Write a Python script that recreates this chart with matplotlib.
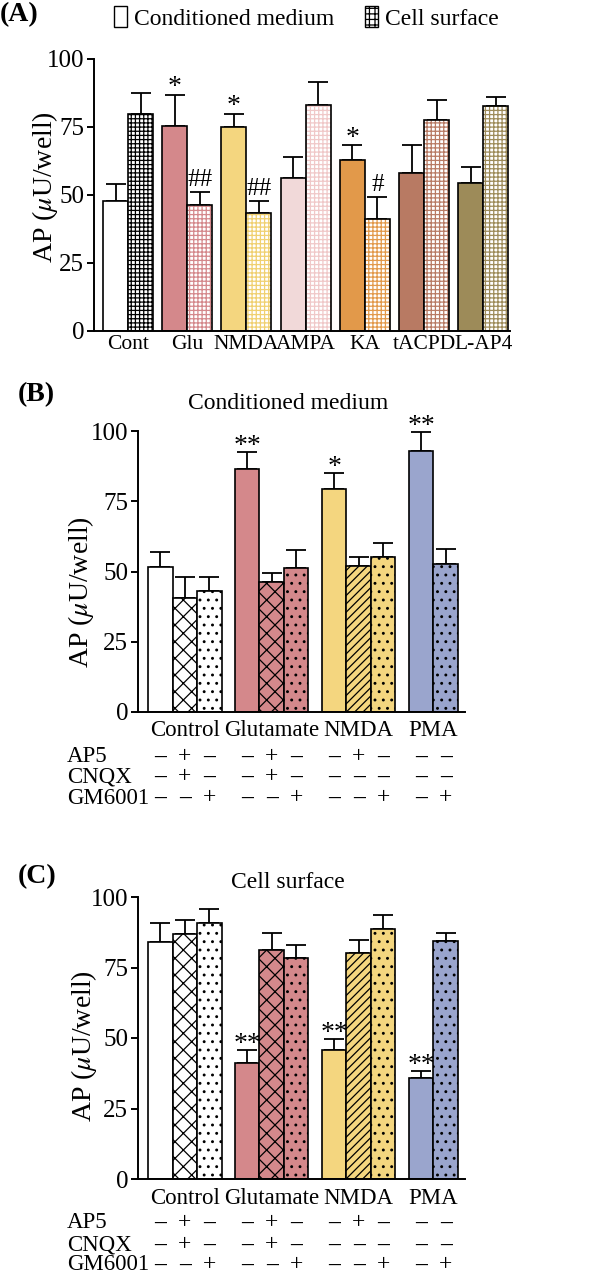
import numpy as np
import matplotlib
matplotlib.use('Agg')
import matplotlib.pyplot as plt
import matplotlib.transforms as mtransforms
from matplotlib.patches import Patch

plt.rcParams['font.family'] = ['Liberation Serif', 'DejaVu Serif']
plt.rcParams['mathtext.fontset'] = 'stix'
plt.rcParams['hatch.linewidth'] = 0.9

# ---- panel A data ----
a_groups = ['Cont', 'Glu', 'NMDA', 'AMPA', 'KA', 'tACPD', 'L-AP4']
a_medium = [47.9, 75.4, 75.1, 56.4, 62.9, 58.2, 54.4]
a_medium_err = [6.1, 11.5, 4.8, 7.4, 5.5, 10.0, 6.0]
a_surface = [79.7, 46.4, 43.5, 83.0, 41.0, 77.6, 82.8]
a_surface_err = [7.9, 4.7, 4.3, 8.6, 8.3, 7.2, 3.3]
a_medium_marks = ['', '*', '*', '', '*', '', '']
a_surface_marks = ['', '##', '##', '', '#', '', '']
a_colors = ['white', '#d4888b', '#f4d67f', '#f1d9d9', '#e2994a', '#b87a63', '#9d8b59']
a_hatch_colors = ['black', '#d4888b', '#f0d070', '#f0c8c8', '#e2994a', '#b87a63', '#9d8b59']

# ---- panels B and C data ----
bc_groups = ['Control', 'Glutamate', 'NMDA', 'PMA']
bar_group = [0, 0, 0, 1, 1, 1, 2, 2, 2, 3, 3]
bar_slot = [0, 1, 2, 0, 1, 2, 0, 1, 2, 0, 1]
bc_colors = ['white', '#d4888b', '#f4d67f', '#9aa5cd']

b_values = [51.5, 40.4, 43.2, 86.6, 46.1, 51.4, 79.4, 52.0, 55.0, 92.9, 52.6]
b_err = [5.5, 7.8, 5.0, 5.9, 3.5, 6.2, 5.8, 3.3, 5.1, 6.7, 5.3]
b_marks = ['', '', '', '**', '', '', '*', '', '', '**', '']

c_values = [84.1, 86.8, 90.8, 41.2, 81.3, 78.5, 45.9, 80.2, 88.7, 35.7, 84.4]
c_err = [6.8, 5.2, 5.1, 4.5, 5.9, 4.4, 3.6, 4.5, 4.8, 2.7, 2.8]
c_marks = ['', '', '', '**', '', '', '**', '', '', '**', '']

ap5 = ['–', '+', '–', '–', '+', '–', '–', '+', '–', '–', '–']
cnqx = ['–', '+', '–', '–', '+', '–', '–', '–', '–', '–', '–']
gm6001 = ['–', '–', '+', '–', '–', '+', '–', '–', '+', '–', '+']
rows = [('AP5', ap5), ('CNQX', cnqx), ('GM6001', gm6001)]

W, H = 610, 1275
fig = plt.figure(figsize=(W / 100, H / 100), dpi=100)


def px_axes(left, right, y0, y100):
    return fig.add_axes([left / W, 1 - y0 / H, (right - left) / W, (y0 - y100) / H])


def style_axes(ax):
    for s in ['top', 'right']:
        ax.spines[s].set_visible(False)
    for s in ['left', 'bottom']:
        ax.spines[s].set_linewidth(1.4)
    ax.set_ylim(0, 100)
    ax.set_yticks([0, 25, 50, 75, 100])
    ax.tick_params(axis='y', direction='out', length=5, width=1.4, labelsize=18, pad=2)
    ax.tick_params(axis='x', length=0, labelsize=16, pad=3)


def add_errs(ax, x, y, e):
    ax.errorbar(x, y, yerr=[np.zeros(len(y)), e], fmt='none', ecolor='black',
                elinewidth=1.3, capsize=7, capthick=1.3, zorder=1)


# ================= panel A =================
axA = px_axes(94, 510, 331, 59)
style_axes(axA)
bw = 1.0
gstep = 2.37
a_left = 0.36 + gstep * np.arange(len(a_groups))
xm = a_left + bw / 2
xs = a_left + 1.5 * bw
add_errs(axA, xm, a_medium, a_medium_err)
add_errs(axA, xs, a_surface, a_surface_err)
axA.bar(xm, a_medium, bw, color=a_colors, edgecolor='black', linewidth=1.2, zorder=2)
for x, v, hc in zip(xs, a_surface, a_hatch_colors):
    axA.bar(x, v, bw, color='white', edgecolor=hc, hatch='++++', linewidth=0, zorder=2)
axA.bar(xs, a_surface, bw, fill=False, edgecolor='black', linewidth=1.2, zorder=3)
for x, v, e, m in zip(xm, a_medium, a_medium_err, a_medium_marks):
    if m:
        axA.annotate(m, (x, v + e), xytext=(0, -4), textcoords='offset points',
                     ha='center', va='bottom', fontsize=20)
for x, v, e, m in zip(xs, a_surface, a_surface_err, a_surface_marks):
    if m:
        axA.annotate(m, (x, v + e), xytext=(0, 1), textcoords='offset points',
                     ha='center', va='bottom', fontsize=18)
axA.set_xlim(0, 16.64)
axA.set_xticks(a_left + bw)
axA.set_xticklabels(a_groups, fontsize=15.5)
fig.text(45 / W, 1 - 187 / H, r'AP ($\mu$U/well)', rotation=90, ha='center', va='center', fontsize=20)
fig.text(0, 1 - 15 / H, '(A)', fontsize=20, fontweight='bold', ha='left', va='center')
handles = [Patch(facecolor='white', edgecolor='black', linewidth=1.0),
           Patch(facecolor='white', edgecolor='black', hatch='+++', linewidth=1.0)]
fig.legend(handles, ['Conditioned medium', 'Cell surface'], ncol=2, loc='center',
           bbox_to_anchor=(306 / W, 1 - 18 / H), frameon=False, fontsize=17,
           handlelength=0.55, handleheight=1.0, handletextpad=0.3, columnspacing=1.3,
           borderpad=0)


# ================= panels B and C =================
def draw_bc(y0, y100, values, errs, marks, title, title_y, label, label_y,
            cat_y, row_ys, ylab_x, ylab_y):
    ax = px_axes(138, 465, y0, y100)
    style_axes(ax)
    gstep_bc = 3.55
    left = 0.41 + gstep_bc * np.array(bar_group) + np.array(bar_slot)
    x = left + 0.5
    add_errs(ax, x, values, errs)
    for xi, v, g, a, c, gm in zip(x, values, bar_group, ap5, cnqx, gm6001):
        if gm == '+':
            h = '..'
        elif a == '+' and c == '+':
            h = 'xx'
        elif a == '+':
            h = '////'
        else:
            h = None
        ax.bar(xi, v, 1.0, color=bc_colors[g], edgecolor='black', hatch=h,
               linewidth=1.2, zorder=2)
    for xi, v, e, m in zip(x, values, errs, marks):
        if m:
            ax.annotate(m, (xi, v + e), xytext=(0, -5), textcoords='offset points',
                        ha='center', va='bottom', fontsize=20)
    ax.set_xlim(0, 13.35)
    centers = [np.mean([xx for xx, g in zip(x, bar_group) if g == k]) for k in range(len(bc_groups))]
    ax.set_xticks([])
    tr = mtransforms.blended_transform_factory(ax.transData, fig.transFigure)
    for cx, name in zip(centers, bc_groups):
        ax.text(cx, 1 - cat_y / H, name, transform=tr, ha='center', va='center',
                fontsize=16.5, clip_on=False)
    for (rname, signs), ry in zip(rows, row_ys):
        fig.text(67 / W, 1 - ry / H, rname, ha='left', va='center', fontsize=16.5)
        for xi, s in zip(x, signs):
            ax.text(xi, 1 - ry / H, s, transform=tr, ha='center', va='center',
                    fontsize=17, fontweight='bold' if s == '–' else 'normal',
                    clip_on=False)
    fig.text(288 / W, 1 - title_y / H, title, ha='center', va='center', fontsize=17)
    fig.text(18 / W, 1 - label_y / H, label, ha='left', va='center', fontsize=20,
             fontweight='bold')
    fig.text(ylab_x / W, 1 - ylab_y / H, r'AP ($\mu$U/well)', rotation=90,
             ha='center', va='center', fontsize=20)
    return ax


draw_bc(712, 431, b_values, b_err, b_marks, 'Conditioned medium', 403, '(B)', 395,
        731, [757, 777, 798], 81, 592)
draw_bc(1179, 897, c_values, c_err, c_marks, 'Cell surface', 882, '(C)', 877,
        1198, [1223, 1245, 1265], 84, 1046)

fig.savefig('out.png', dpi=100)
